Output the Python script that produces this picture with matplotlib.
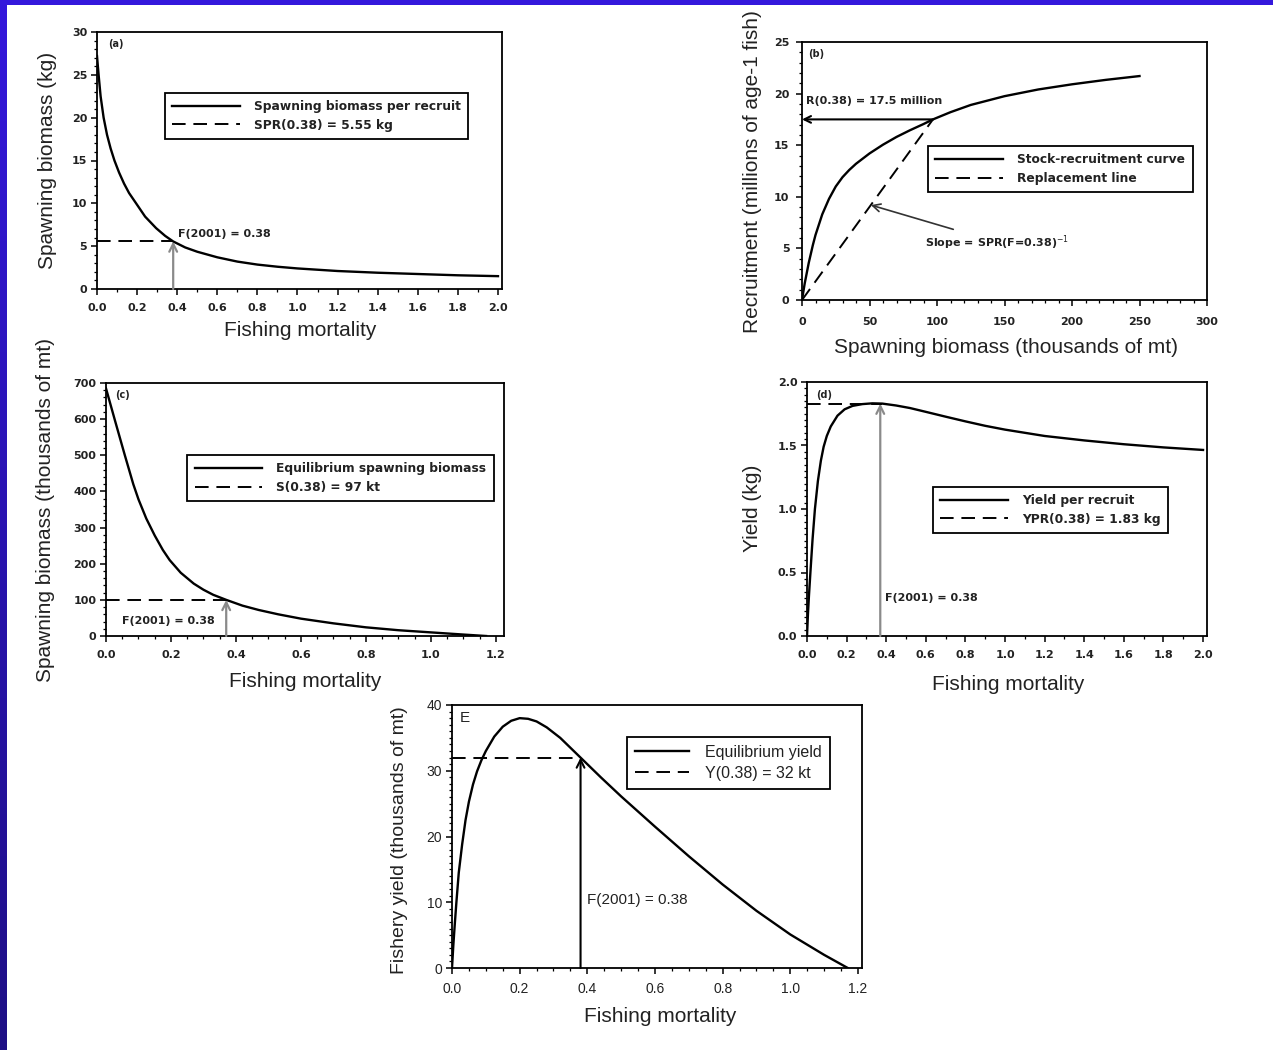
#!/usr/bin/env python3
# Five-panel fishery reference-point figure (SPR, S-R curve, equilibrium
# spawning biomass, yield per recruit, equilibrium yield)

import numpy as np
import matplotlib.pyplot as plt
from matplotlib.ticker import MultipleLocator

W, H = 1273, 1050

# ---- values ----
F_2001 = 0.38

# (a) spawning biomass per recruit (kg) vs F
f_a = [0, 0.008, 0.018, 0.033, 0.05, 0.068, 0.087, 0.11, 0.135, 0.16,
       0.195, 0.24, 0.295, 0.34, 0.38, 0.44, 0.5, 0.6, 0.7, 0.8, 0.9, 1.0,
       1.2, 1.4, 1.6, 1.8, 2.0]
spr_a = [27.2, 25, 22.5, 20, 18.0, 16.4, 15, 13.6, 12.3, 11.2,
         10, 8.45, 7.1, 6.2, 5.55, 4.85, 4.35, 3.7, 3.2, 2.85, 2.6, 2.4,
         2.1, 1.9, 1.75, 1.6, 1.5]
spr_038 = 5.55

# (b) stock-recruitment curve (thousands of mt -> millions of fish)
s_b = [0, 2, 5, 8, 10, 15, 20, 25, 30, 35, 40, 50, 60, 70, 80, 90, 97,
       110, 125, 150, 175, 200, 225, 250]
r_b = [0, 1.6, 3.6, 5.3, 6.3, 8.3, 9.8, 11.0, 11.9, 12.6, 13.2, 14.2,
       15.05, 15.8, 16.45, 17.05, 17.5, 18.2, 18.9, 19.75, 20.4, 20.9,
       21.33, 21.7]
s_038 = 97
r_038 = 17.5
slope_pt = (51, 9.2)

# (c) equilibrium spawning biomass (thousands of mt) vs F
f_c = [0, 0.028, 0.058, 0.084, 0.1, 0.124, 0.15, 0.175, 0.196, 0.23,
       0.27, 0.3, 0.33, 0.37, 0.42, 0.47, 0.53, 0.6, 0.7, 0.8, 0.9, 1.0,
       1.1, 1.17]
sb_c = [685, 595, 500, 420, 378, 325, 278, 238, 210, 175,
        145, 128, 114, 100, 84, 72, 60, 48, 35, 24, 16, 10,
        4, 0]
sb_038 = 100

# (d) yield per recruit (kg) vs F
f_d = [0, 0.005, 0.01, 0.018, 0.028, 0.04, 0.055, 0.07, 0.084, 0.1, 0.12,
       0.154, 0.19, 0.23, 0.28, 0.33, 0.38, 0.45, 0.52, 0.6, 0.7, 0.8, 0.9,
       1.0, 1.2, 1.4, 1.6, 1.8, 2.0]
ypr_d = [0, 0.18, 0.32, 0.52, 0.76, 1.0, 1.22, 1.38, 1.49, 1.575, 1.65,
         1.735, 1.785, 1.812, 1.826, 1.832, 1.83, 1.815, 1.795, 1.765,
         1.727, 1.69, 1.655, 1.625, 1.575, 1.54, 1.51, 1.485, 1.465]
ypr_038 = 1.83

# (E) equilibrium yield (thousands of mt) vs F
f_e = [0, 0.004, 0.008, 0.013, 0.02, 0.03, 0.04, 0.05, 0.062, 0.074, 0.087,
       0.1, 0.125, 0.15, 0.175, 0.2, 0.225, 0.25, 0.28, 0.32, 0.38, 0.44,
       0.5, 0.6, 0.7, 0.8, 0.9, 1.0, 1.1, 1.17]
y_e = [0, 3.5, 6.5, 10, 14.5, 18.8, 22.5, 25.3, 27.9, 29.9, 31.6,
       33.0, 35.2, 36.7, 37.6, 38, 37.9, 37.5, 36.6, 35, 32, 29.0,
       26.1, 21.5, 17.0, 12.7, 8.7, 5.1, 2.0, 0]
y_038 = 32

# ---- style ----
plt.rcParams['font.family'] = ['Liberation Sans', 'DejaVu Sans']
TXT = '#222222'
SMALL = dict(family='DejaVu Sans', weight='bold', size=8)
LEGSMALL = dict(family='DejaVu Sans', weight='bold', size=8.8)
LW = 1.7
DASH = (0, (7, 4))

fig = plt.figure(figsize=(W / 100, H / 100), dpi=100)
fig.patch.set_facecolor('white')

# blue slide border (top strip + left gradient strip)
top = fig.add_axes([0, 1 - 5 / H, 1, 5 / H])
top.set_facecolor('#3418dc')
top.set_xticks([]); top.set_yticks([])
for s in top.spines.values():
    s.set_visible(False)
left = fig.add_axes([0, 0, 7 / W, 1])
c0 = np.array([0x34, 0x18, 0xdc]) / 255
c1 = np.array([0x1e, 0x0f, 0x85]) / 255
grad = np.linspace(0, 1, 200)[:, None, None] * (c1 - c0) + c0
left.imshow(grad, aspect='auto')
left.axis('off')


def box(l, t, r, b):
    return [l / W, 1 - b / H, (r - l) / W, (b - t) / H]


def style(ax, xmaj, xmin, ymaj, ymin, big=False):
    for s in ax.spines.values():
        s.set_linewidth(1.3)
        s.set_color('black')
    ax.xaxis.set_major_locator(MultipleLocator(xmaj))
    ax.xaxis.set_minor_locator(MultipleLocator(xmin))
    ax.yaxis.set_major_locator(MultipleLocator(ymaj))
    ax.yaxis.set_minor_locator(MultipleLocator(ymin))
    ax.tick_params(which='major', direction='out', length=4, width=1.1,
                   colors='black', labelcolor=TXT)
    ax.tick_params(which='minor', direction='out', length=2.5, width=0.9)
    ax.tick_params(axis='x', which='major', pad=6)
    ax.tick_params(axis='y', which='major', pad=3)
    for lab in ax.get_xticklabels() + ax.get_yticklabels():
        if big:
            lab.set_fontfamily('Liberation Sans')
            lab.set_fontsize(10)
        else:
            lab.set_fontfamily('DejaVu Sans')
            lab.set_fontweight('bold')
            lab.set_fontsize(8)


def labels(ax, xl, yl, xpos, ypos, ysize=15):
    ax.set_xlabel(xl, fontsize=15, color=TXT)
    ax.set_ylabel(yl, fontsize=ysize, color=TXT)
    ax.xaxis.set_label_coords(*xpos)
    ax.yaxis.set_label_coords(*ypos)
    ax.xaxis.label.set_va('center')
    ax.yaxis.label.set_va('center')


def legend(ax, anchor, big=False):
    if big:
        prop = dict(family='Liberation Sans', size=11.5)
        hl, tp, bp, ls = 3.4, 1.0, 0.5, 0.35
    else:
        prop = LEGSMALL
        hl, tp, bp, ls = 5.5, 1.2, 0.6, 0.45
    leg = ax.legend(loc='upper left', bbox_to_anchor=anchor, prop=prop,
                    handlelength=hl, handletextpad=tp, borderpad=bp,
                    labelspacing=ls, fancybox=False, framealpha=1,
                    borderaxespad=0)
    leg.get_frame().set_edgecolor('black')
    leg.get_frame().set_linewidth(1.3)
    for t in leg.get_texts():
        t.set_color(TXT)


GRAY_ARROW = dict(arrowstyle='->', color='#8a8a8a', lw=1.6,
                  shrinkA=0, shrinkB=0, mutation_scale=14)

# ---- (a) ----
ax = fig.add_axes(box(97, 32, 502, 289))
ax.plot(f_a, spr_a, color='black', lw=LW, label='Spawning biomass per recruit')
ax.plot([0, F_2001], [spr_038, spr_038], color='black', lw=1.4, ls=DASH,
        label='SPR(0.38) = 5.55 kg')
ax.annotate('', xy=(F_2001, spr_038), xytext=(F_2001, 0),
            arrowprops=GRAY_ARROW)
ax.text(0.404, 6.4, 'F(2001) = 0.38', color=TXT, va='center', **SMALL)
ax.text(0.027, 0.953, '(a)', transform=ax.transAxes, color=TXT, va='center',
        family='DejaVu Sans', weight='bold', size=7)
ax.set_xlim(0, 2.02)
ax.set_ylim(0, 30)
style(ax, 0.2, 0.1, 5, 1)
labels(ax, 'Fishing mortality', 'Spawning biomass (kg)',
       (0.501, -0.16), (-0.123, 0.5))
legend(ax, (0.168, 0.763))

# ---- (b) ----
ax = fig.add_axes(box(802, 42, 1207, 300))
ax.plot(s_b, r_b, color='black', lw=LW, label='Stock-recruitment curve')
ax.plot([0, s_038], [0, r_038], color='black', lw=1.4, ls=DASH,
        label='Replacement line')
ax.annotate('', xy=(0, r_038), xytext=(s_038, r_038),
            arrowprops=dict(arrowstyle='->', color='black', lw=1.5,
                            shrinkA=0, shrinkB=0, mutation_scale=12))
ax.text(3, 19.3, 'R(0.38) = 17.5 million', color=TXT, va='center', **SMALL)
ax.annotate(r'Slope = SPR(F=0.38)$^{-1}$', xy=slope_pt, xytext=(91, 5.6),
            va='center', ha='left', color=TXT, **SMALL,
            arrowprops=dict(arrowstyle='->', color='#333333', lw=1.2,
                            shrinkA=2, shrinkB=0, mutation_scale=14))
ax.text(0.015, 0.953, '(b)', transform=ax.transAxes, color=TXT, va='center',
        family='DejaVu Sans', weight='bold', size=7)
ax.set_xlim(0, 300)
ax.set_ylim(0, 25)
style(ax, 50, 10, 5, 1)
ax.tick_params(axis='x', which='major', pad=8)
ax.tick_params(axis='y', which='major', pad=5)
labels(ax, 'Spawning biomass (thousands of mt)',
       'Recruitment (millions of age-1 fish)',
       (0.504, -0.186), (-0.123, 0.496))
legend(ax, (0.311, 0.597))

# ---- (c) ----
ax = fig.add_axes(box(106, 383, 504, 636))
ax.plot(f_c, sb_c, color='black', lw=LW, label='Equilibrium spawning biomass')
ax.plot([0, 0.37], [sb_038, sb_038], color='black', lw=1.4, ls=DASH,
        label='S(0.38) = 97 kt')
ax.annotate('', xy=(0.37, sb_038), xytext=(0.37, 0), arrowprops=GRAY_ARROW)
ax.text(0.049, 41.5, 'F(2001) = 0.38', color=TXT, va='center', **SMALL)
ax.text(0.023, 0.953, '(c)', transform=ax.transAxes, color=TXT, va='center',
        family='DejaVu Sans', weight='bold', size=7)
ax.set_xlim(0, 1.225)
ax.set_ylim(0, 700)
style(ax, 0.2, 0.05, 100, 20)
labels(ax, 'Fishing mortality', 'Spawning biomass (thousands of mt)',
       (0.5, -0.178), (-0.153, 0.498))
legend(ax, (0.204, 0.715))

# ---- (d) ----
ax = fig.add_axes(box(807, 382, 1207, 636))
ax.plot(f_d, ypr_d, color='black', lw=LW, label='Yield per recruit')
ax.plot([0, F_2001], [ypr_038, ypr_038], color='black', lw=1.4, ls=DASH,
        label='YPR(0.38) = 1.83 kg')
ax.annotate('', xy=(0.37, ypr_038), xytext=(0.37, 0), arrowprops=GRAY_ARROW)
ax.text(0.394, 0.30, 'F(2001) = 0.38', color=TXT, va='center', **SMALL)
ax.text(0.022, 0.95, '(d)', transform=ax.transAxes, color=TXT, va='center',
        family='DejaVu Sans', weight='bold', size=7)
ax.set_xlim(0, 2.02)
ax.set_ylim(0, 2.0)
style(ax, 0.2, 0.1, 0.5, 0.05)
labels(ax, 'Fishing mortality', 'Yield (kg)',
       (0.502, -0.189), (-0.1375, 0.504))
legend(ax, (0.315, 0.587))

# ---- (E) ----
ax = fig.add_axes(box(452, 705, 862, 968))
ax.plot(f_e, y_e, color='black', lw=LW, label='Equilibrium yield')
ax.plot([0, F_2001], [y_038, y_038], color='black', lw=1.4, ls=DASH,
        label='Y(0.38) = 32 kt')
ax.annotate('', xy=(F_2001, y_038), xytext=(F_2001, 0),
            arrowprops=dict(arrowstyle='->', color='black', lw=1.5,
                            shrinkA=0, shrinkB=0, mutation_scale=14))
ax.text(0.399, 10.3, 'F(2001) = 0.38', color=TXT, va='center',
        family='Liberation Sans', size=11)
ax.text(0.02, 0.95, 'E', transform=ax.transAxes, color=TXT, va='center',
        family='Liberation Sans', size=11)
ax.set_xlim(0, 1.212)
ax.set_ylim(0, 40)
style(ax, 0.2, 0.05, 10, 1, big=True)
labels(ax, 'Fishing mortality', 'Fishery yield (thousands of mt)',
       (0.507, -0.186), (-0.127, 0.487), ysize=14)
legend(ax, (0.427, 0.878), big=True)

fig.savefig('out.png', dpi=100, facecolor=fig.get_facecolor())
